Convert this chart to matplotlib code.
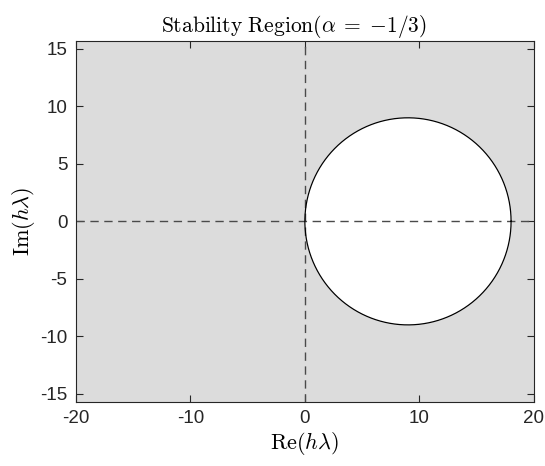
import numpy as np
import matplotlib
matplotlib.use("Agg")
import matplotlib.pyplot as plt

# Data
alpha_label = "-1/3"
circle_center = [9.0, 0.0]
circle_radius = 9.0
x_limits = [-20, 20]
y_limits = [-15.7, 15.7]
x_ticks = [-20, -10, 0, 10, 20]
y_ticks = [-15, -10, -5, 0, 5, 10, 15]

plt.rcParams['mathtext.fontset'] = 'cm'
plt.rcParams['axes.unicode_minus'] = False
plt.rcParams['font.family'] = ['Liberation Sans', 'DejaVu Sans']

fig = plt.figure(figsize=(5.45, 4.66), dpi=100)
ax = fig.add_axes([75.7/545, 64/466, 458.3/545, 361.3/466])

ax.set_facecolor('#dcdcdc')
theta = np.linspace(0, 2*np.pi, 400)
cx = circle_center[0] + circle_radius*np.cos(theta)
cy = circle_center[1] + circle_radius*np.sin(theta)
ax.fill(cx, cy, color='white', zorder=1)
ax.plot(cx, cy, color='black', lw=0.9, zorder=3)

ax.axvline(0, color='#4a4a4a', ls=(0, (6, 4)), lw=1.0, zorder=2)
ax.axhline(0, color='#4a4a4a', ls=(0, (6, 4)), lw=1.0, zorder=2)

ax.set_xlim(x_limits)
ax.set_ylim(y_limits)
ax.set_xticks(x_ticks)
ax.set_yticks(y_ticks)
ax.tick_params(direction='in', top=True, right=True, labelsize=13.5, length=5,
               width=0.8, colors='#262626', labelcolor='#262626', pad=6)
for s in ax.spines.values():
    s.set_color('#262626')
    s.set_linewidth(0.8)

alpha_tex = alpha_label.replace('-', '{-}')
ax.set_title(r'$\mathrm{Stability\ Region}(\alpha\;=\;' + alpha_tex + r')$',
             fontsize=15.5, pad=6, x=0.476)
ax.set_xlabel(r'$\mathrm{Re}(h\lambda)$', fontsize=16, labelpad=2)
ax.set_ylabel(r'$\mathrm{Im}(h\lambda)$', fontsize=16, labelpad=2)

fig.savefig('out.png', dpi=100)
